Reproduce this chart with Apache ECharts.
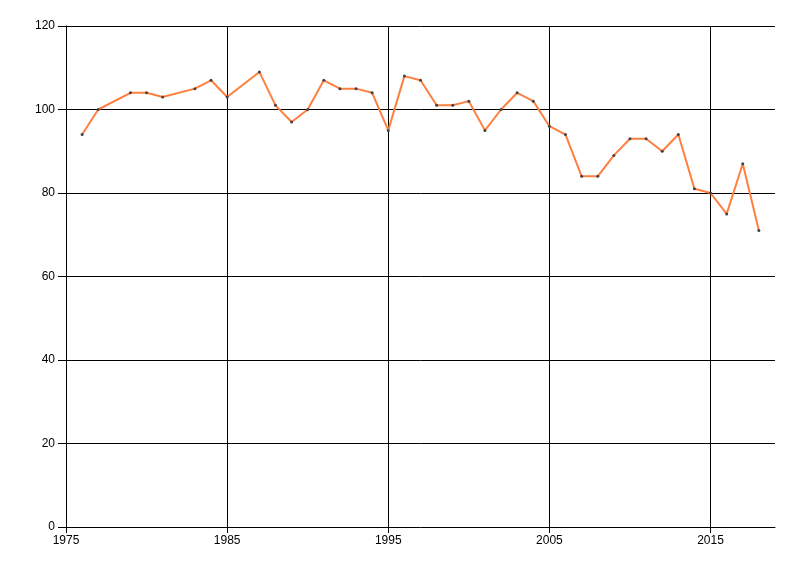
<!DOCTYPE html>
<html>
<head>
<meta charset="utf-8">
<script src="https://cdn.jsdelivr.net/npm/echarts@6/dist/echarts.min.js"></script>
<style>html,body{margin:0;padding:0;background:#fff;}#c{width:800px;height:576px;}</style>
</head>
<body>
<div id="c"></div>
<script>
const years = [1976,1977,1979,1980,1981,1983,1984,1985,1987,1988,1989,1990,1991,1992,1993,1994,1995,1996,1997,1998,1999,2000,2001,2002,2003,2004,2005,2006,2007,2008,2009,2010,2011,2012,2013,2014,2015,2016,2017,2018];
const values = [94,100,104,104,103,105,107,103,109,101,97,100,107,105,105,104,95,108,107,101,101,102,95,100,104,102,96,94,84,84,89,93,93,90,94,81,80,75,87,71];
const xTicks = [1975,1985,1995,2005,2015];
const xMin = 1975, xMax = 2019;
const yMin = 0, yMax = 120, yStep = 20;

const chart = echarts.init(document.getElementById('c'), null, {renderer:'canvas'});
const font = {fontFamily:'Liberation Sans, Arial, sans-serif', fontSize:12, color:'#000'};
chart.setOption({
  animation:false,
  backgroundColor:'#fff',
  grid:{left:66, top:26, width:709, height:501, containLabel:false},
  xAxis:{
    type:'value', min:xMin, max:xMax,
    axisLine:{show:true, lineStyle:{color:'#000', width:1}},
    axisTick:{show:true, length:6, customValues:xTicks, lineStyle:{color:'#000'}},
    axisLabel:Object.assign({margin:8, customValues:xTicks, formatter:v=>String(v)}, font),
    splitLine:{show:true, showMinLine:false, showMaxLine:true, lineStyle:{color:'#000', width:1}}
  },
  yAxis:{
    type:'value', min:yMin, max:yMax, interval:yStep,
    axisLine:{show:true, lineStyle:{color:'#000', width:1}},
    axisTick:{show:true, length:8, lineStyle:{color:'#000'}},
    axisLabel:Object.assign({margin:11}, font),
    splitLine:{show:true, showMinLine:false, lineStyle:{color:'#000', width:1}}
  },
  series:[{
    type:'line',
    data:years.map((y,i)=>[y, values[i]]),
    lineStyle:{color:'#FF7F3F', width:2},
    symbol:'circle', symbolSize:3,
    itemStyle:{color:'#444'},
    z:5
  }]
});
</script>
</body>
</html>
